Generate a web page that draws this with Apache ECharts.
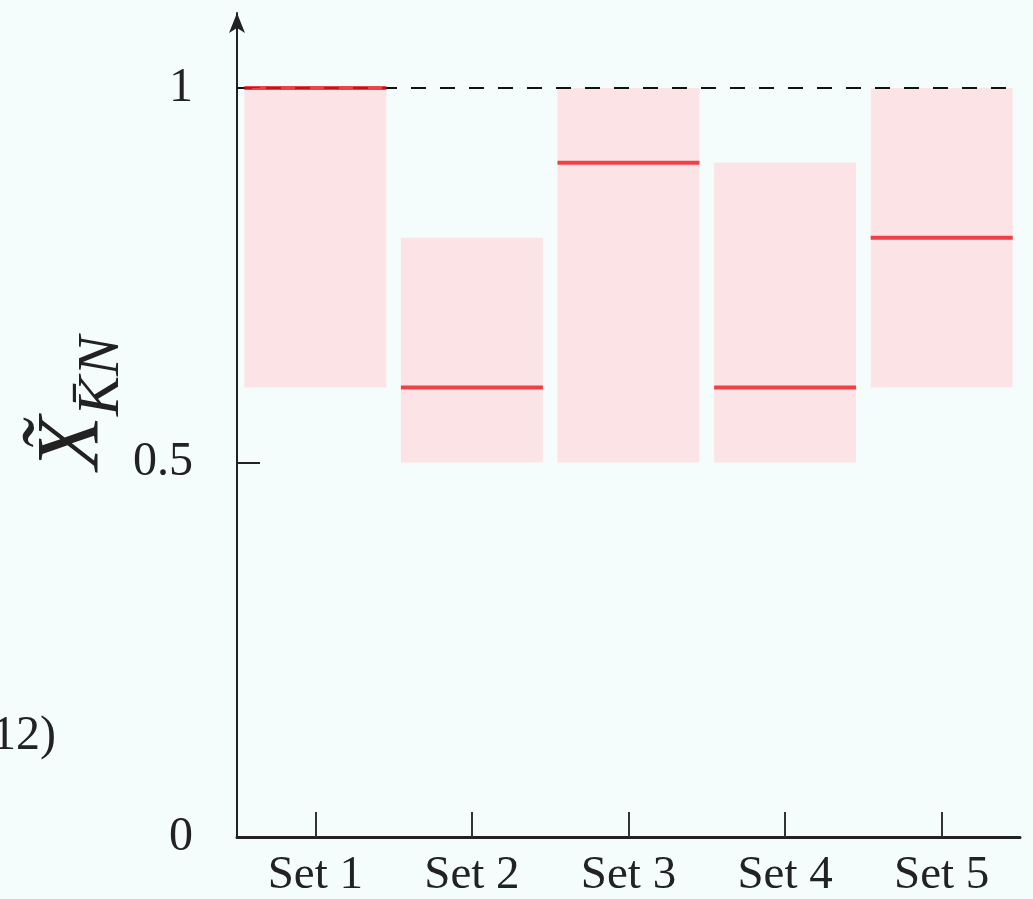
<!DOCTYPE html>
<html><head><meta charset="utf-8">
<script src="https://cdn.jsdelivr.net/npm/echarts@6/dist/echarts.min.js"></script>
<style>html,body{margin:0;padding:0;background:#f5fdfc;}#c{width:1033px;height:899px;}</style>
</head><body><div id="c"></div>
<script>
const categories = ['Set 1', 'Set 2', 'Set 3', 'Set 4', 'Set 5'];
const lowValues = [0.6, 0.5, 0.5, 0.5, 0.6];
const highValues = [1.0, 0.8, 1.0, 0.9, 1.0];
const medianValues = [1.0, 0.6, 0.9, 0.6, 0.8];
const yTickValues = [0, 0.5, 1];
const referenceValue = 1;

const rangeValues = highValues.map((h, i) => +(h - lowValues[i]).toFixed(4));
const serif = '"Liberation Serif", "DejaVu Serif", serif';

const chart = echarts.init(document.getElementById('c'));
chart.setOption({
  backgroundColor: '#f5fdfc',
  animation: false,
  grid: { left: 237, right: 13, top: 13, bottom: 59, containLabel: false },
  xAxis: {
    type: 'category', data: categories, boundaryGap: true,
    axisLine: { lineStyle: { color: '#222', width: 3 } },
    axisTick: { show: true, alignWithLabel: true, inside: true, length: 25, lineStyle: { color: '#333', width: 2 } },
    axisLabel: { color: '#222', fontFamily: serif, fontSize: 47, margin: 15 },
    splitLine: { show: false }
  },
  yAxis: {
    type: 'value', min: 0, max: 1.1,
    axisLine: { show: true, symbol: ['none', 'arrow'], symbolSize: [12, 20], lineStyle: { color: '#222', width: 2 } },
    axisTick: { show: true, inside: true, length: 23, customValues: yTickValues, lineStyle: { color: '#222', width: 2 } },
    axisLabel: { color: '#222', fontFamily: serif, fontSize: 48, margin: 44, customValues: yTickValues,
      formatter: v => String(v) },
    splitLine: { show: false }
  },
  series: [
    { type: 'bar', stack: 'r', data: lowValues, barWidth: 142, itemStyle: { color: 'transparent' }, silent: true },
    { type: 'bar', stack: 'r', data: rangeValues, barWidth: 142, itemStyle: { color: '#fce4e6' },
      markLine: { symbol: 'none', silent: true, label: { show: false },
        lineStyle: { color: '#111', width: 2, type: [15, 14] },
        data: [{ yAxis: referenceValue }] } },
    { type: 'scatter', data: medianValues, symbol: 'rect', symbolSize: [142, 4], z: 5,
      itemStyle: { color: '#e8171f' } }
  ],
  graphic: [
    { type: 'text', left: 30, top: 336, rotation: Math.PI / 2,
      style: { text: '{x|X̃}{s|K̄N}', fill: '#222',
        rich: { x: { fontFamily: serif, fontStyle: 'italic', fontSize: 88, fill: '#222' },
                s: { fontFamily: serif, fontStyle: 'italic', fontSize: 60, fill: '#222', padding: [56, 0, 0, 0] } } } },
    { type: 'text', left: -24, top: 712,
      style: { text: '(12)', fontFamily: serif, fontSize: 48, fill: '#222' } }
  ]
});
</script></body></html>
